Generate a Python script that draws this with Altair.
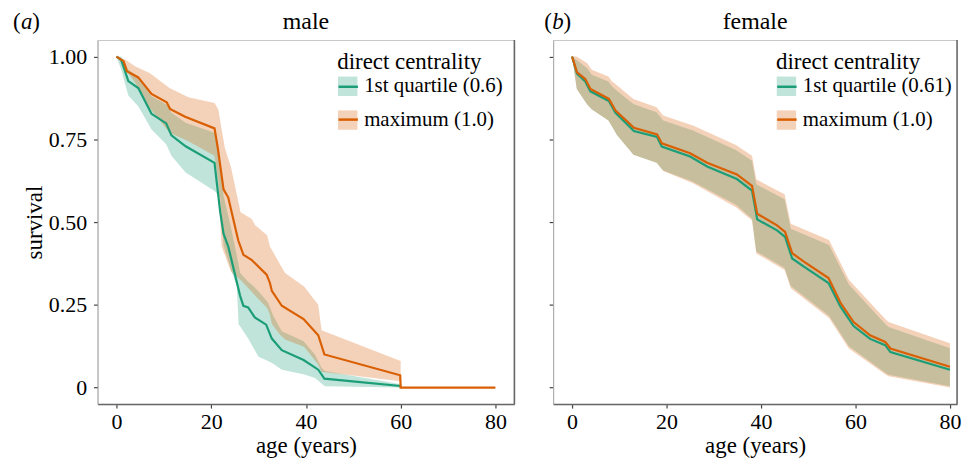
import altair as alt
import pandas as pd

SERIF = "Liberation Serif"
GREEN = "#1b9e77"
ORANGE = "#d95f02"
COLORS = [GREEN, ORANGE]

LEGEND_TITLE = "direct centrality"
M_GROUPS = ["1st quartile (0.6)", "maximum (1.0)"]
F_GROUPS = ["1st quartile (0.61)", "maximum (1.0)"]
PANEL_TITLES = ["male", "female"]
PANEL_TAGS = ["a", "b"]
X_TICKS = [0, 20, 40, 60, 80]
Y_TICKS = [0, 0.25, 0.5, 0.75, 1.0]

# ---------------- male ----------------
M_Q1_AGE = [0, 1, 2.5, 4.6, 7.4, 10.5, 11.6, 14.6, 20.7, 21.9, 22.6, 23.6, 26.1, 26.8,
            27.8, 29.2, 31.6, 32.8, 34.9, 39.5, 42.6, 43.9, 59.9, 60]
M_Q1_SURV = [1.0, 0.99, 0.926, 0.905, 0.827, 0.798, 0.762, 0.729, 0.679, 0.53, 0.465, 0.426,
             0.277, 0.247, 0.242, 0.212, 0.19, 0.148, 0.113, 0.083, 0.054, 0.027, 0.005, 0.0]
M_MX_AGE = [0, 1.5, 2.2, 4.6, 7.4, 10.6, 11.3, 14.5, 20.7, 21.4, 22.6, 23.6, 25.7, 26.8, 28.5,
            31.7, 32.4, 32.8, 34.9, 39.5, 42.6, 43.9, 59.9, 60, 80]
M_MX_SURV = [1.0, 0.986, 0.956, 0.937, 0.887, 0.862, 0.842, 0.818, 0.783, 0.723, 0.599, 0.574,
             0.445, 0.401, 0.386, 0.341, 0.316, 0.292, 0.247, 0.207, 0.158, 0.10, 0.037, 0.0, 0.0]

M_Q1_BAND_AGE = [0, 1, 2.5, 4.6, 7.4, 10.5, 11.6, 14.6, 20.7, 21.9, 22.6, 24.3, 25.4, 25.8, 26.1,
                 27.8, 28.9, 30, 32, 33.1, 34.9, 39.5, 41.9, 43.3, 44, 60]
M_Q1_LO = [1.0, 0.96, 0.882, 0.85, 0.78, 0.735, 0.70, 0.65, 0.594, 0.574, 0.43, 0.35, 0.307, 0.19,
           0.185, 0.148, 0.12, 0.093, 0.08, 0.072, 0.054, 0.04, 0.029, 0.012, 0.004, 0.0]
M_Q1_HI = [1.0, 1.0, 0.96, 0.94, 0.88, 0.855, 0.83, 0.80, 0.77, 0.68, 0.58, 0.475, 0.40, 0.37,
           0.346, 0.32, 0.307, 0.29, 0.257, 0.217, 0.17, 0.14, 0.10, 0.06, 0.05, 0.01]

M_MX_BAND_AGE = [0, 2, 4, 7, 11.2, 15.2, 20.7, 21.5, 22.2, 22.9, 24.2, 26.2, 28.5, 29.3, 31.8,
                 32.4, 32.8, 34.5, 35.6, 39.6, 42.6, 43.3, 60]
M_MX_HI = [1.0, 0.99, 0.97, 0.95, 0.905, 0.877, 0.86, 0.84, 0.78, 0.723, 0.664, 0.53, 0.51, 0.49,
           0.46, 0.426, 0.416, 0.373, 0.346, 0.305, 0.25, 0.173, 0.08]
M_MX_LO = [1.0, 0.96, 0.92, 0.845, 0.77, 0.744, 0.70, 0.62, 0.426, 0.40, 0.35, 0.325, 0.29, 0.277,
           0.24, 0.22, 0.192, 0.16, 0.145, 0.123, 0.07, 0.048, 0.019]

# ---------------- female ----------------
F_LINE_AGE = [0, 1.06, 2.8, 3.9, 7.8, 9.2, 13.1, 18, 19, 25, 28.6, 34.9, 38.1, 39.2, 43.4, 45.1,
              46.6, 49, 54.3, 56.8, 59.6, 63.1, 66.3, 67.4, 80]
F_MX_SURV = [1.0, 0.952, 0.932, 0.902, 0.872, 0.837, 0.785, 0.765, 0.738, 0.708, 0.679, 0.644,
             0.609, 0.525, 0.49, 0.47, 0.406, 0.381, 0.331, 0.257, 0.198, 0.158, 0.138, 0.118, 0.063]
F_Q1_SURV = [1.0, 0.948, 0.925, 0.895, 0.866, 0.83, 0.775, 0.757, 0.728, 0.698, 0.668, 0.63,
             0.595, 0.508, 0.475, 0.455, 0.39, 0.366, 0.316, 0.245, 0.186, 0.147, 0.128, 0.107, 0.054]

F_BAND_AGE = [0, 1, 3.2, 4.2, 7.7, 8.4, 9.5, 13, 17.9, 19.3, 25.6, 34.7, 38.1, 39, 45, 46.3, 54.4,
              58.6, 66.3, 67, 80]
F_MX_HI = [1.0, 1.0, 0.98, 0.96, 0.94, 0.926, 0.913, 0.872, 0.847, 0.822, 0.792, 0.733, 0.70,
           0.629, 0.584, 0.495, 0.446, 0.326, 0.207, 0.198, 0.134]
F_MX_LO = [1.0, 0.902, 0.855, 0.84, 0.807, 0.79, 0.763, 0.703, 0.679, 0.654, 0.617, 0.545, 0.505,
           0.405, 0.355, 0.30, 0.21, 0.118, 0.04, 0.034, 0.0]
F_Q1_HI = [1.0, 0.99, 0.965, 0.945, 0.925, 0.911, 0.897, 0.857, 0.832, 0.807, 0.777, 0.718, 0.685,
           0.614, 0.569, 0.48, 0.431, 0.311, 0.192, 0.183, 0.119]
F_Q1_LO = [1.0, 0.902, 0.855, 0.84, 0.807, 0.79, 0.763, 0.703, 0.679, 0.656, 0.622, 0.552, 0.51,
           0.411, 0.361, 0.307, 0.217, 0.125, 0.045, 0.039, 0.004]

H = 366
W_LEFT = 419
W_RIGHT = 406
BAND_OPACITY = 0.28
HEAD_FS = 23


def bands_df(groups, parts):
    rows = []
    for g, (ages, lo, hi) in zip(groups, parts):
        for a, l, h in zip(ages, lo, hi):
            rows.append({"age": a, "lo": l, "hi": h, "band": g})
    return pd.DataFrame(rows)


def lines_df(groups, parts):
    rows = []
    for g, (ages, s) in zip(groups, parts):
        for a, v in zip(ages, s):
            rows.append({"age": a, "surv": v, "grp": g})
    return pd.DataFrame(rows)


def legend(kind, lx, ly):
    common = dict(
        title=LEGEND_TITLE, orient="none", legendX=lx, legendY=ly,
        titleFont=SERIF, titleFontSize=23, titleFontWeight="normal",
        labelFont=SERIF, labelFontSize=21, symbolSize=380, rowPadding=12,
        titlePadding=2, labelOffset=6, padding=0,
    )
    if kind == "fill":
        return alt.Legend(symbolType="square", symbolOpacity=BAND_OPACITY,
                          symbolStrokeWidth=0, titleColor="black", labelColor="black",
                          **common)
    return alt.Legend(symbolType="stroke", symbolStrokeWidth=2.5, symbolOpacity=1,
                      titleColor="transparent", labelColor="transparent", **common)


def panel(groups, band_parts, line_parts, width, xmax, show_y, tag, title, lx, ly):
    xscale = alt.Scale(domain=[-4, xmax], nice=False, zero=False)
    yscale = alt.Scale(domain=[-0.05, 1.05], nice=False, zero=False)
    xaxis = alt.Axis(values=X_TICKS, title="age (years)", grid=False, format="d")
    if show_y:
        yaxis = alt.Axis(values=Y_TICKS, title="survival", grid=False,
                         labelExpr="datum.value == 0 ? '0' : format(datum.value, '.2f')")
    else:
        yaxis = alt.Axis(values=Y_TICKS, title=None, labels=False, grid=False)

    band = alt.Chart(bands_df(groups, band_parts)).mark_area(
        fillOpacity=BAND_OPACITY, interpolate="linear"
    ).encode(
        x=alt.X("age:Q", scale=xscale, axis=xaxis),
        y=alt.Y("lo:Q", scale=yscale, axis=yaxis),
        y2="hi:Q",
        fill=alt.Fill("band:N", scale=alt.Scale(range=COLORS), legend=legend("fill", lx, ly)),
    )
    line = alt.Chart(lines_df(groups, line_parts)).mark_line(strokeWidth=2.2).encode(
        x=alt.X("age:Q", scale=xscale),
        y=alt.Y("surv:Q", scale=yscale),
        stroke=alt.Stroke("grp:N", scale=alt.Scale(range=COLORS), legend=legend("stroke", lx, ly)),
    )
    border = alt.Chart(pd.DataFrame({"k": [0]})).mark_rule(color="#666666", strokeWidth=1.5).encode(
        x=alt.value(width), y=alt.value(0), y2=alt.value(H)
    )
    tx = -85 if show_y else -9
    ty = -11
    p_open = alt.Chart(pd.DataFrame({"t": ["("]})).mark_text(
        font=SERIF, fontSize=HEAD_FS, align="left", baseline="alphabetic", color="black"
    ).encode(text="t:N", x=alt.value(tx), y=alt.value(ty))
    p_tag = alt.Chart(pd.DataFrame({"t": [tag]})).mark_text(
        font=SERIF, fontSize=HEAD_FS, fontStyle="italic", align="left", baseline="alphabetic",
        color="black"
    ).encode(text="t:N", x=alt.value(tx + 8), y=alt.value(ty))
    p_close = alt.Chart(pd.DataFrame({"t": [")"]})).mark_text(
        font=SERIF, fontSize=HEAD_FS, align="left", baseline="alphabetic", color="black"
    ).encode(text="t:N", x=alt.value(tx + 19.5), y=alt.value(ty))
    ttl = alt.Chart(pd.DataFrame({"t": [title]})).mark_text(
        font=SERIF, fontSize=24, align="center", baseline="alphabetic", color="black"
    ).encode(text="t:N", x=alt.value(width / 2), y=alt.value(ty))

    return alt.layer(band, line, border, p_open, p_tag, p_close, ttl).properties(
        width=width, height=H
    ).resolve_scale(fill="independent", stroke="independent")


left = panel(
    M_GROUPS,
    [(M_Q1_BAND_AGE, M_Q1_LO, M_Q1_HI), (M_MX_BAND_AGE, M_MX_LO, M_MX_HI)],
    [(M_Q1_AGE, M_Q1_SURV), (M_MX_AGE, M_MX_SURV)],
    W_LEFT, 84, True, PANEL_TAGS[0], PANEL_TITLES[0], 241, 11,
)
right = panel(
    F_GROUPS,
    [(F_BAND_AGE, F_Q1_LO, F_Q1_HI), (F_BAND_AGE, F_MX_LO, F_MX_HI)],
    [(F_LINE_AGE, F_Q1_SURV), (F_LINE_AGE, F_MX_SURV)],
    W_RIGHT, 81.5, False, PANEL_TAGS[1], PANEL_TITLES[1], 224, 11,
)

chart = alt.hconcat(left, right, spacing=27).resolve_scale(
    x="independent", fill="independent", stroke="independent"
).resolve_legend(fill="independent", stroke="independent").properties(
    padding={"left": 4, "top": 0, "right": 0, "bottom": 0}
).configure_view(
    stroke="#c8c8c8", strokeWidth=1
).configure_legend(
    labelFont=SERIF, titleFont=SERIF
).configure_axis(
    labelFont=SERIF, titleFont=SERIF, labelFontSize=22, titleFontSize=23,
    titleFontWeight="normal", labelColor="black", titleColor="black",
    tickColor="#444444", tickSize=4, tickWidth=1.2, labelPadding=4,
).configure_axisY(
    domainColor="#aaaaaa", domainWidth=1, titlePadding=2, labelPadding=7
).configure_axisX(
    domainColor="#666666", domainWidth=1.5, titlePadding=2
)

chart.save("out.html", embed_options={"renderer": "svg", "actions": False})
